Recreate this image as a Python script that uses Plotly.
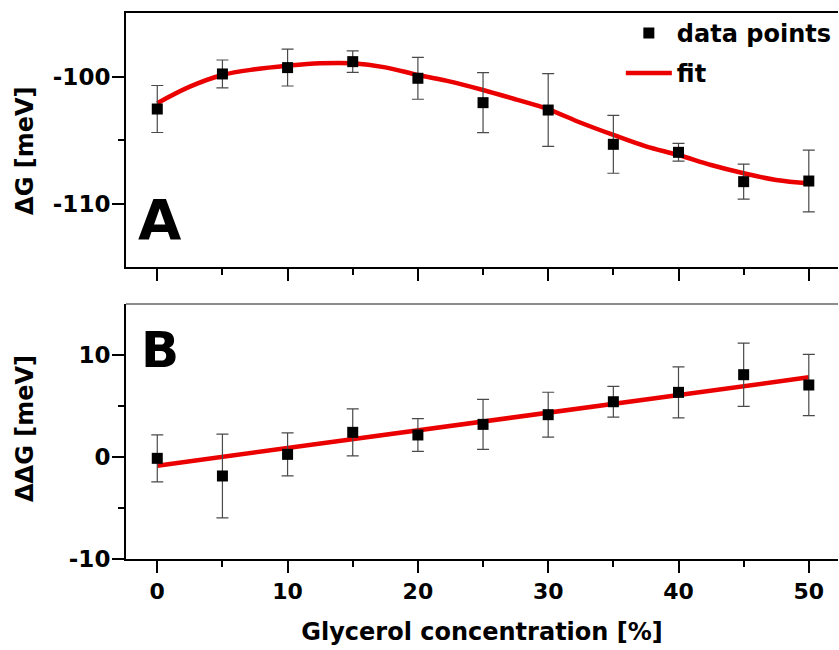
import plotly.graph_objects as go
from plotly.subplots import make_subplots

# ---- data ----
glycerol = [0, 5, 10, 15, 20, 25, 30, 35, 40, 45, 50]

dG = [-102.56, -99.8, -99.3, -98.83, -100.14, -102.06, -102.64, -105.34, -105.97, -108.28, -108.23]
dG_err = [1.85, 1.1, 1.45, 0.85, 1.65, 2.36, 2.86, 2.28, 0.7, 1.38, 2.43]

fit_x_top = [0, 2.5, 5, 7.5, 10, 12.5, 15, 17.5, 20, 22.5, 25, 27.5, 30, 32.5, 35, 37.5, 40, 42.5, 45, 47.5, 50]
fit_y_top = [-102.1, -100.8, -99.88, -99.43, -99.15, -98.96, -98.96, -99.28, -99.88, -100.4, -101.06,
             -101.8, -102.58, -103.64, -104.6, -105.5, -106.18, -106.97, -107.62, -108.15, -108.41]

ddG = [-0.13, -1.86, 0.26, 2.42, 2.16, 3.2, 4.15, 5.42, 6.34, 8.07, 7.06]
ddG_err = [2.3, 4.1, 2.1, 2.3, 1.6, 2.45, 2.2, 1.5, 2.5, 3.1, 3.0]

fit_x_bot = [0, 50]
fit_y_bot = [-0.85, 7.81]

x_ticks = [0, 10, 20, 30, 40, 50]
y_top_ticks = [-110, -100]
y_top_labels = ["-110", "-100"]
y_bot_ticks = [-10, 0, 10]
y_bot_labels = ["-10", "0", "10"]

FONT = "DejaVu Sans"
RED = "rgb(235,0,0)"
ERR = "#4a4a4a"

fig = make_subplots(rows=2, cols=1, shared_xaxes=False, vertical_spacing=0.0)

# top panel
fig.add_trace(go.Scatter(x=fit_x_top, y=fit_y_top, mode="lines", name="fit",
                         line=dict(color=RED, width=4.5, shape="spline", smoothing=1.0),
                         legendgroup="b", legendrank=2), row=1, col=1)
fig.add_trace(go.Scatter(x=glycerol, y=dG, mode="markers", name="data points",
                         marker=dict(symbol="square", size=11, color="black"),
                         error_y=dict(type="data", array=dG_err, color=ERR, thickness=1.2, width=6),
                         legendgroup="a", legendrank=1), row=1, col=1)

# bottom panel
fig.add_trace(go.Scatter(x=fit_x_bot, y=fit_y_bot, mode="lines", showlegend=False,
                         line=dict(color=RED, width=4.5)), row=2, col=1)
fig.add_trace(go.Scatter(x=glycerol, y=ddG, mode="markers", showlegend=False,
                         marker=dict(symbol="square", size=11, color="black"),
                         error_y=dict(type="data", array=ddG_err, color=ERR, thickness=1.2, width=6)),
              row=2, col=1)

axis_common = dict(showgrid=False, zeroline=False, showline=True, linecolor="black", linewidth=2,
                   ticks="outside", ticklen=12, tickwidth=2, tickcolor="black",
                   tickfont=dict(family=FONT, size=22, color="black", weight="bold"))

xrange = [-2.4, 52.24]
fig.update_xaxes(**axis_common, range=xrange, tickvals=x_ticks,
                 minor=dict(dtick=5, tick0=0, ticks="outside", ticklen=6, tickwidth=2, tickcolor="black"))
fig.update_xaxes(showticklabels=False, mirror=True, row=1, col=1)
fig.update_xaxes(ticklabelstandoff=0, row=2, col=1,
                 title=dict(text="Glycerol concentration [%]", standoff=20,
                            font=dict(family=FONT, size=24, color="black", weight="bold")))

fig.update_yaxes(**axis_common)
fig.update_yaxes(tickfont=dict(family=FONT, size=23, color="black", weight="bold"), ticklabelstandoff=-3)
fig.update_yaxes(range=[-115, -95], tickvals=y_top_ticks, ticktext=y_top_labels, row=1, col=1,
                 minor=dict(tickvals=[-105], ticks="outside", ticklen=6, tickwidth=2, tickcolor="black"))
fig.update_yaxes(range=[-10, 15], tickvals=y_bot_ticks, ticktext=y_bot_labels, row=2, col=1,
                 minor=dict(tickvals=[-5, 5], ticks="outside", ticklen=6, tickwidth=2, tickcolor="black"))

fig.update_layout(
    width=839, height=650,
    margin=dict(l=126, r=1, t=13, b=91),
    paper_bgcolor="white", plot_bgcolor="white",
    font=dict(family=FONT, color="black"),
    yaxis=dict(domain=[0.5348, 1.0]),
    yaxis2=dict(domain=[0.0, 0.467]),
    xaxis=dict(anchor="y"), xaxis2=dict(anchor="y2"),
    legend=dict(x=0.695, y=1.004, xanchor="left", yanchor="top", itemwidth=46,
                bgcolor="rgba(0,0,0,0)", tracegroupgap=6,
                font=dict(family=FONT, size=24, color="black", weight="bold")),
    showlegend=True,
)

# light frame line on top of lower panel
fig.add_shape(type="line", xref="x2 domain", yref="y2 domain", x0=0, x1=1, y0=1, y1=1,
              line=dict(color="#666666", width=1.5))

# panel letters and y-axis titles
fig.add_annotation(text="A", xref="paper", yref="paper", x=0.0478, y=0.6227, showarrow=False,
                   xanchor="center", yanchor="middle",
                   font=dict(family=FONT, size=56, color="black", weight="bold"))
fig.add_annotation(text="B", xref="paper", yref="paper", x=0.0478, y=0.3828, showarrow=False,
                   xanchor="center", yanchor="middle",
                   font=dict(family=FONT, size=50, color="black", weight="bold"))
fig.add_annotation(text="ΔG [meV]", xref="paper", yref="paper", x=-0.1419, y=0.7473, showarrow=False,
                   textangle=-90, xanchor="center", yanchor="middle",
                   font=dict(family=FONT, size=24, color="black", weight="bold"))
fig.add_annotation(text="ΔΔG [meV]", xref="paper", yref="paper", x=-0.1419, y=0.2399, showarrow=False,
                   textangle=-90, xanchor="center", yanchor="middle",
                   font=dict(family=FONT, size=24, color="black", weight="bold"))

fig.write_html("out.html")
